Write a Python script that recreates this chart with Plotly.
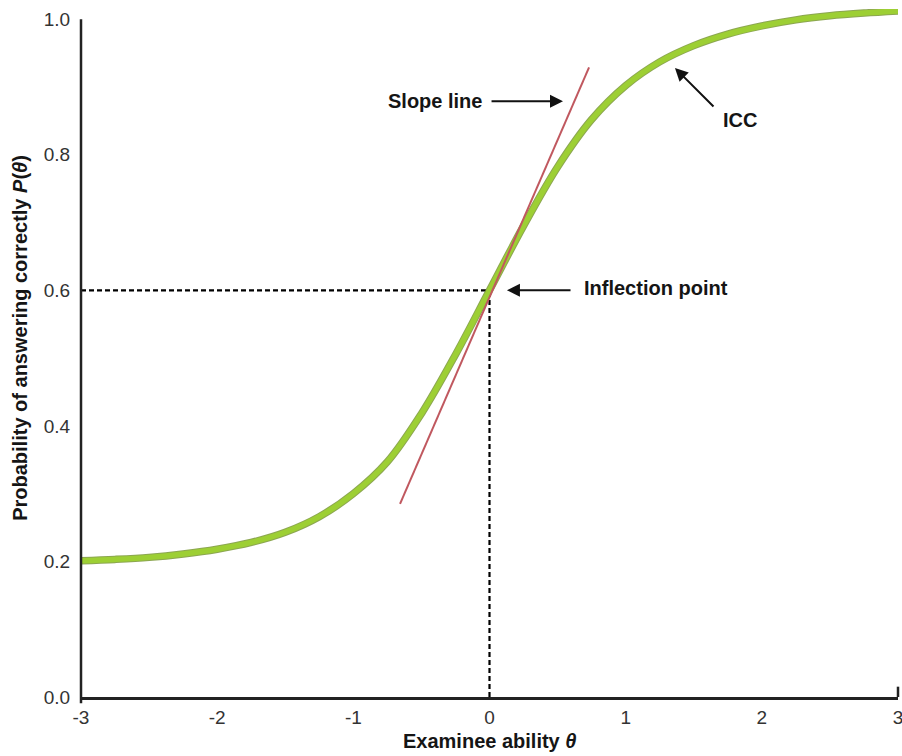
import plotly.graph_objects as go

# ICC values
theta = [-3.0, -2.75, -2.5, -2.25, -2.0, -1.75, -1.5, -1.25, -1.0, -0.75, -0.5, -0.25,
         0.0, 0.25, 0.5, 0.75, 1.0, 1.25, 1.5, 1.75, 2.0, 2.25, 2.5, 2.75, 3.0]
prob = [0.201, 0.203, 0.206, 0.211, 0.218, 0.228, 0.243, 0.266, 0.300, 0.347, 0.418, 0.505,
        0.600, 0.695, 0.782, 0.852, 0.902, 0.937, 0.961, 0.978, 0.990, 0.999, 1.005, 1.009, 1.012]

# slope (tangent) line end points
slope_theta = [-0.657, 0.731]
slope_prob = [0.285, 0.929]

# inflection point
infl_theta = 0.0
infl_prob = 0.6

x_ticks = [-3, -2, -1, 0, 1, 2, 3]
y_ticks = [0.0, 0.2, 0.4, 0.6, 0.8, 1.0]

Y_TOP = 1.015
FONT = "Liberation Sans, Arial, Helvetica, sans-serif"

fig = go.Figure()

# dashed guides
fig.add_trace(go.Scatter(x=[-3, infl_theta], y=[infl_prob, infl_prob], mode="lines",
                         line=dict(color="black", width=2.2, dash="5px,3px"), hoverinfo="skip"))
fig.add_trace(go.Scatter(x=[infl_theta, infl_theta], y=[0, infl_prob], mode="lines",
                         line=dict(color="black", width=2.2, dash="5px,3px"), hoverinfo="skip"))

# ICC (edge + body)
fig.add_trace(go.Scatter(x=theta, y=prob, mode="lines", line_shape="spline",
                         line=dict(color="rgba(120,150,50,0.85)", width=7.5), hoverinfo="skip"))
fig.add_trace(go.Scatter(x=theta, y=prob, mode="lines", line_shape="spline",
                         line=dict(color="#9dcf34", width=5.5), hoverinfo="skip"))

# slope line
fig.add_trace(go.Scatter(x=slope_theta, y=slope_prob, mode="lines",
                         line=dict(color="#c0585f", width=2), hoverinfo="skip"))

annots = []
lab = dict(size=20, color="#151515", family=FONT)
annots.append(dict(x=-0.40, y=0.879, xref="x", yref="y", text="<b>Slope line</b>",
                   showarrow=False, font=lab))
annots.append(dict(x=1.840, y=0.851, xref="x", yref="y", text="<b>ICC</b>",
                   showarrow=False, font=lab))
annots.append(dict(x=0.679, y=0.603, xref="x", yref="y", text="<b>Inflection point</b>",
                   showarrow=False, font=lab, xanchor="left"))

arrow = dict(text="", showarrow=True, arrowhead=2, arrowsize=1.3, arrowwidth=2,
             arrowcolor="#111", xref="x", yref="y", axref="x", ayref="y", standoff=0)
annots.append(dict(arrow, x=0.540, y=0.879, ax=0.004, ay=0.879))
annots.append(dict(arrow, x=1.362, y=0.928, ax=1.656, ay=0.869))
annots.append(dict(arrow, x=0.128, y=infl_prob, ax=0.606, ay=infl_prob))

tit = dict(size=20, color="#151515", family=FONT)
annots.append(dict(x=0.5, y=-0.064, xref="paper", yref="paper",
                   text="<b>Examinee ability <i>θ</i></b>", showarrow=False, font=tit,
                   xanchor="center", yanchor="middle"))
annots.append(dict(x=-0.0747, y=0.522, xref="paper", yref="paper",
                   text="<b>Probability of answering correctly <i>P</i>(<i>θ</i>)</b>",
                   showarrow=False, font=tit, textangle=-90,
                   xanchor="center", yanchor="middle"))

shapes = [
    # y axis line up to 1.0
    dict(type="line", xref="paper", yref="paper", x0=0, x1=0,
         y0=-0.009, y1=1.0 / Y_TOP, line=dict(color="#222", width=2.5)),
    # small end tick at right
    dict(type="line", xref="paper", yref="paper", x0=1, x1=1,
         y0=0, y1=0.015, line=dict(color="#222", width=2.5)),
]

fig.update_layout(
    width=902, height=756,
    margin=dict(l=81, r=4, t=9, b=59),
    paper_bgcolor="white", plot_bgcolor="white",
    showlegend=False,
    annotations=annots, shapes=shapes,
    font=dict(family=FONT),
)
fig.update_xaxes(range=[-3, 3], tickvals=x_ticks, ticktext=[str(v) for v in x_ticks],
                 showgrid=False, zeroline=False, showline=True, linecolor="#222", linewidth=2.5,
                 ticks="outside", ticklen=1, tickcolor="rgba(0,0,0,0)", automargin=False,
                 ticklabeloverflow="allow",
                 tickfont=dict(size=19, color="#333", family=FONT))
fig.update_yaxes(range=[0, Y_TOP], tickvals=y_ticks, ticktext=[f"{v:.1f}" for v in y_ticks],
                 showgrid=False, zeroline=False, showline=False, automargin=False,
                 ticklabeloverflow="allow",
                 ticks="outside", ticklen=6, tickcolor="rgba(0,0,0,0)",
                 tickfont=dict(size=19, color="#333", family=FONT))

fig.write_html(
    "out.html",
    config={"displayModeBar": False},
    post_script="document.body.style.margin='0';document.documentElement.style.overflow='hidden';",
)
